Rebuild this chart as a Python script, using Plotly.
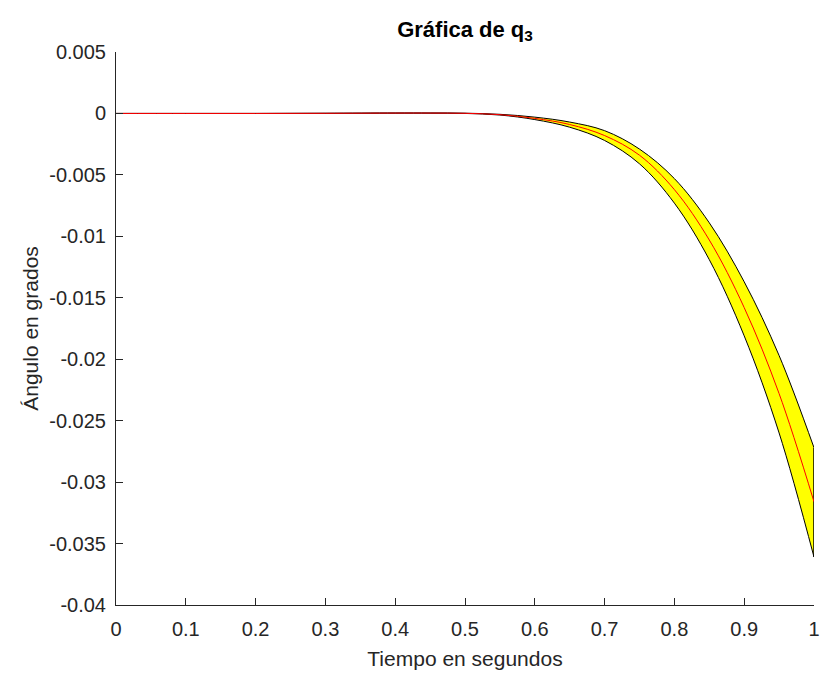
import plotly.graph_objects as go

# Time samples (s) and joint angle q3: nominal trajectory plus upper/lower envelope
tiempo = [0, 0.1, 0.2, 0.3, 0.4, 0.45, 0.5, 0.55, 0.6, 0.65, 0.7, 0.75, 0.8, 0.85, 0.9, 0.95, 1.0]
q3_nominal = [0, 0, 0, 0.00001, 0.00003, 0.00003, 0.00001, -0.0001, -0.0004, -0.0009,
              -0.0018, -0.0034, -0.0062, -0.0103, -0.0158, -0.0228, -0.0316]
q3_superior = [0, 0, 0, 0.00001, 0.00003, 0.00003, 0.00002, -0.00007, -0.00030, -0.00070,
               -0.0014, -0.0029, -0.0053, -0.0089, -0.0137, -0.0197, -0.0272]
q3_inferior = [0, 0, 0, 0.00001, 0.00003, 0.00003, 0.0, -0.00013, -0.00050, -0.00112,
               -0.0022, -0.0041, -0.0073, -0.0119, -0.0181, -0.0260, -0.0361]

x_ticks = [0, 0.1, 0.2, 0.3, 0.4, 0.5, 0.6, 0.7, 0.8, 0.9, 1]
x_tick_labels = ["0", "0.1", "0.2", "0.3", "0.4", "0.5", "0.6", "0.7", "0.8", "0.9", "1"]
y_ticks = [0.005, 0, -0.005, -0.01, -0.015, -0.02, -0.025, -0.03, -0.035, -0.04]
y_tick_labels = ["0.005", "0", "-0.005", "-0.01", "-0.015", "-0.02", "-0.025", "-0.03", "-0.035", "-0.04"]

FONT = "Liberation Sans, Arial, Helvetica, sans-serif"
AXIS_COLOR = "#262626"

fig = go.Figure()

# Lower envelope edge
fig.add_trace(go.Scatter(
    x=tiempo, y=q3_inferior, mode="lines",
    line=dict(color="black", width=1, shape="spline", smoothing=1.0),
    hoverinfo="skip", showlegend=False,
))
# Upper envelope edge, filled down to the lower edge
fig.add_trace(go.Scatter(
    x=tiempo, y=q3_superior, mode="lines",
    line=dict(color="black", width=1, shape="spline", smoothing=1.0),
    fill="tonexty", fillcolor="#FFFF00",
    hoverinfo="skip", showlegend=False,
))
# Closing edge of the band at the final time
fig.add_trace(go.Scatter(
    x=[tiempo[-1], tiempo[-1]], y=[q3_superior[-1], q3_inferior[-1]], mode="lines",
    line=dict(color="black", width=1.5),
    hoverinfo="skip", showlegend=False,
))
# Nominal trajectory
fig.add_trace(go.Scatter(
    x=tiempo, y=q3_nominal, mode="lines",
    line=dict(color="#FF0000", width=1, shape="spline", smoothing=1.0),
    showlegend=False,
))

fig.update_layout(
    width=820, height=677,
    margin=dict(l=116, r=6, t=52, b=72),
    paper_bgcolor="white", plot_bgcolor="white",
    font=dict(family=FONT, color=AXIS_COLOR, size=20),
    title=dict(
        text="<b>Gráfica de q<sub>3</sub></b>",
        x=0.5, xref="paper", xanchor="center",
        y=1 - 29 / 677, yref="container", yanchor="middle",
        font=dict(family=FONT, size=22, color="black"),
    ),
    showlegend=False,
)

fig.update_xaxes(
    range=[0, 1], tickvals=x_ticks, ticktext=x_tick_labels,
    showline=True, linecolor=AXIS_COLOR, linewidth=1, mirror=False,
    ticks="inside", ticklen=7, tickcolor=AXIS_COLOR, tickwidth=1,
    showgrid=False, zeroline=False, ticklabeloverflow="allow",
    ticklabelstandoff=6, automargin=False,
    tickfont=dict(size=20, color=AXIS_COLOR),
    title=dict(text="Tiempo en segundos", font=dict(size=21, color=AXIS_COLOR), standoff=12),
)
fig.update_yaxes(
    range=[-0.04, 0.005], tickvals=y_ticks, ticktext=y_tick_labels,
    showline=True, linecolor=AXIS_COLOR, linewidth=1, mirror=False,
    ticks="inside", ticklen=7, tickcolor=AXIS_COLOR, tickwidth=1,
    showgrid=False, zeroline=False, ticklabeloverflow="allow",
    ticklabelstandoff=5, automargin=False,
    tickfont=dict(size=20, color=AXIS_COLOR),
    title=dict(text="Ángulo en grados", font=dict(size=21, color=AXIS_COLOR), standoff=4),
)

fig.write_html("out.html")
